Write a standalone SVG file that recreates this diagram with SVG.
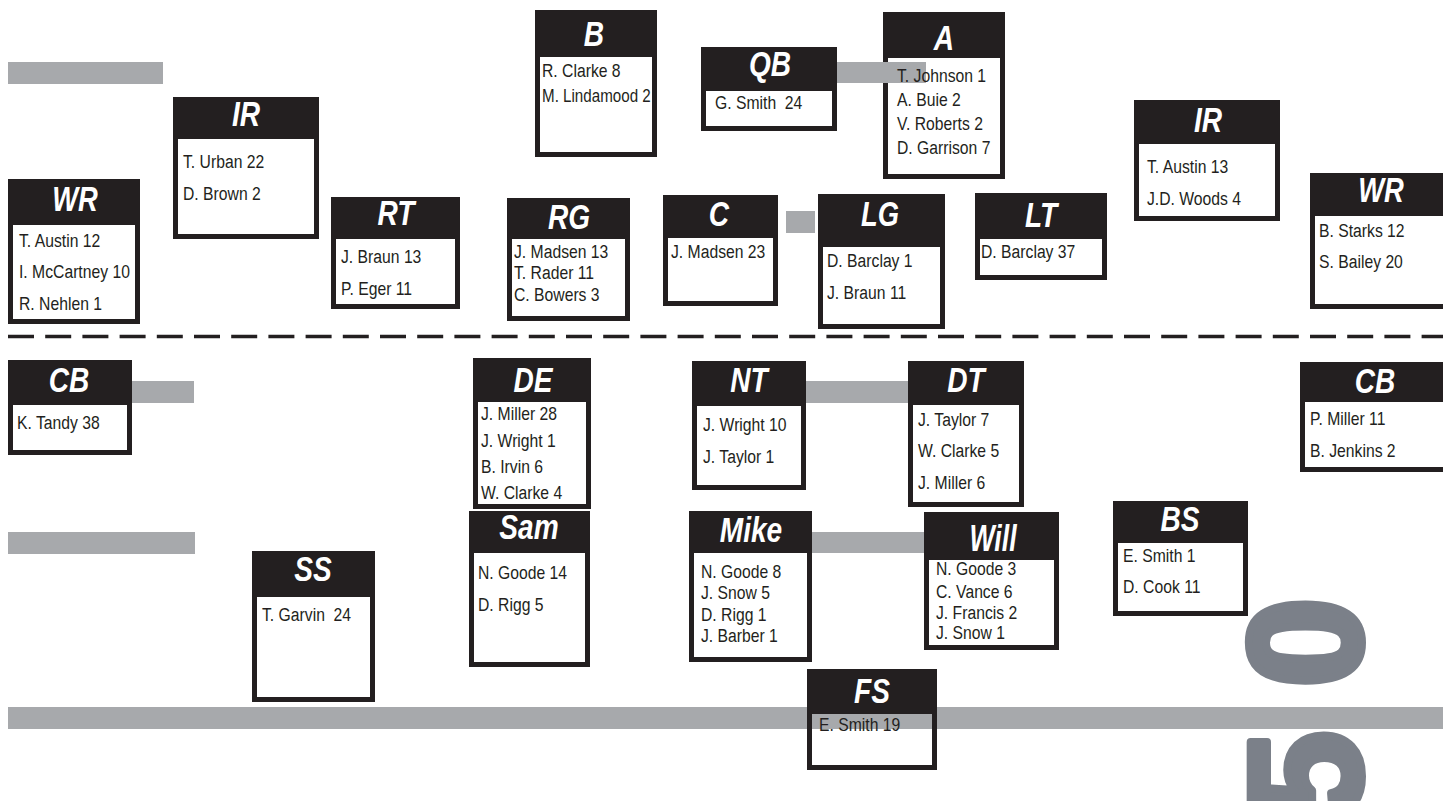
<svg xmlns="http://www.w3.org/2000/svg" width="1443" height="801" viewBox="0 0 1443 801">
<style>
.hd{fill:#231f20}
.fr{fill:#fff;stroke:#231f20;stroke-width:5}
.fo{fill:none;stroke:#231f20;stroke-width:5}
.bar{fill:#a7a9ac}
.t{font-family:"Liberation Sans",sans-serif;font-weight:bold;font-style:italic;font-size:36px;fill:#fff;text-anchor:middle}
.n{font-family:"Liberation Sans",sans-serif;font-size:18.5px;fill:#231f20}
.num{font-family:"Liberation Sans",sans-serif;font-weight:bold;font-size:160px;fill:#7b8089;stroke:#7b8089;stroke-width:8;stroke-linejoin:round;letter-spacing:44px}
</style>
<rect width="1443" height="801" fill="#fff"/>
<g id="field">
<text class="num" transform="translate(1360,820) rotate(-90)">50</text>
<rect class="bar" x="8" y="62" width="155" height="22"/>
<rect class="bar" x="8" y="532" width="187" height="22"/>
<rect class="bar" x="8" y="707" width="1435" height="22"/>
<line x1="8" y1="336.5" x2="1443" y2="336.5" stroke="#231f20" stroke-width="3.5" stroke-dasharray="26 11.2"/>
</g>
<g id="connectors">
<rect class="bar" x="837" y="62" width="89" height="21"/>
<rect class="bar" x="786" y="211" width="29" height="22"/>
<rect class="bar" x="132" y="381" width="62" height="22"/>
<rect class="bar" x="806" y="381" width="102" height="22"/>
<rect class="bar" x="812" y="532" width="112" height="21"/>
</g>
<g id="node-wr-left">
<rect class="fr" x="10.5" y="181.5" width="127" height="140"/>
<rect class="hd" x="8" y="179" width="132" height="46"/>
<text class="t" transform="translate(75,211) scale(.76,1)">WR</text>
<text class="n" transform="translate(19,247) scale(.85,1)">T. Austin 12</text>
<text class="n" transform="translate(19,278) scale(.85,1)">I. McCartney 10</text>
<text class="n" transform="translate(19,310) scale(.85,1)">R. Nehlen 1</text>
</g>
<g id="node-ir-left">
<rect class="fr" x="175.5" y="99.5" width="141" height="137"/>
<rect class="hd" x="173" y="97" width="146" height="42"/>
<text class="t" transform="translate(246,126) scale(.78,1)">IR</text>
<text class="n" transform="translate(183,168) scale(.85,1)">T. Urban 22</text>
<text class="n" transform="translate(183,200) scale(.85,1)">D. Brown 2</text>
</g>
<g id="node-rt">
<rect class="fr" x="333.5" y="199.5" width="124" height="107"/>
<rect class="hd" x="331" y="197" width="129" height="42"/>
<text class="t" transform="translate(396,225) scale(.78,1)">RT</text>
<text class="n" transform="translate(341,263) scale(.85,1)">J. Braun 13</text>
<text class="n" transform="translate(341,295) scale(.85,1)">P. Eger 11</text>
</g>
<g id="node-b">
<rect class="fr" x="537.5" y="12.5" width="117" height="142"/>
<rect class="hd" x="535" y="10" width="122" height="47"/>
<text class="t" transform="translate(594,46) scale(.78,1)">B</text>
<text class="n" transform="translate(542,77) scale(.85,1)">R. Clarke 8</text>
<text class="n" transform="translate(542,102) scale(.82,1)">M. Lindamood 2</text>
</g>
<g id="node-qb">
<rect class="fr" x="703.5" y="49.5" width="131" height="79"/>
<rect class="hd" x="701" y="47" width="136" height="44"/>
<text class="t" transform="translate(770,76) scale(.78,1)">QB</text>
<text class="n" transform="translate(715,109) scale(.85,1)" xml:space="preserve">G. Smith  24</text>
</g>
<g id="node-a">
<path class="fo" d="M885.5,83 V176.5 H1002.5 V14.5 H885.5 V62"/>
<rect class="hd" x="883" y="12" width="122" height="46"/>
<text class="t" transform="translate(944,50) scale(.78,1)">A</text>
<text class="n" transform="translate(897,82) scale(.85,1)">T. Johnson 1</text>
<text class="n" transform="translate(897,106) scale(.85,1)">A. Buie 2</text>
<text class="n" transform="translate(897,130) scale(.85,1)">V. Roberts 2</text>
<text class="n" transform="translate(897,154) scale(.85,1)">D. Garrison 7</text>
</g>
<g id="node-rg">
<rect class="fr" x="509.5" y="200.5" width="118" height="118"/>
<rect class="hd" x="507" y="198" width="123" height="41"/>
<text class="t" transform="translate(569,229) scale(.78,1)">RG</text>
<text class="n" transform="translate(514,258) scale(.85,1)">J. Madsen 13</text>
<text class="n" transform="translate(514,279) scale(.85,1)">T. Rader 11</text>
<text class="n" transform="translate(514,301) scale(.85,1)">C. Bowers 3</text>
</g>
<g id="node-c">
<rect class="fr" x="665.5" y="197.5" width="110" height="106"/>
<rect class="hd" x="663" y="195" width="115" height="43"/>
<text class="t" transform="translate(719,226) scale(.78,1)">C</text>
<text class="n" transform="translate(671,258) scale(.85,1)">J. Madsen 23</text>
</g>
<g id="node-lg">
<rect class="fr" x="820.5" y="196.5" width="122" height="130"/>
<rect class="hd" x="818" y="194" width="127" height="53"/>
<text class="t" transform="translate(880,226) scale(.76,1)">LG</text>
<text class="n" transform="translate(827,267) scale(.85,1)">D. Barclay 1</text>
<text class="n" transform="translate(827,299) scale(.85,1)">J. Braun 11</text>
</g>
<g id="node-lt">
<rect class="fr" x="977.5" y="195.5" width="127" height="82"/>
<rect class="hd" x="975" y="193" width="132" height="46"/>
<text class="t" transform="translate(1041,227) scale(.78,1)">LT</text>
<text class="n" transform="translate(981,258) scale(.85,1)">D. Barclay 37</text>
</g>
<g id="node-ir-right">
<rect class="fr" x="1136.5" y="102.5" width="141" height="116"/>
<rect class="hd" x="1134" y="100" width="146" height="44"/>
<text class="t" transform="translate(1208,132) scale(.78,1)">IR</text>
<text class="n" transform="translate(1147,173) scale(.85,1)">T. Austin 13</text>
<text class="n" transform="translate(1147,205) scale(.85,1)">J.D. Woods 4</text>
</g>
<g id="node-wr-right">
<rect class="fr" x="1312.5" y="175.5" width="137" height="131"/>
<rect class="hd" x="1310" y="173" width="142" height="43"/>
<text class="t" transform="translate(1381,202) scale(.76,1)">WR</text>
<text class="n" transform="translate(1319,237) scale(.85,1)">B. Starks 12</text>
<text class="n" transform="translate(1319,268) scale(.85,1)">S. Bailey 20</text>
</g>
<g id="node-cb-left">
<rect class="fr" x="10.5" y="362.5" width="119" height="90"/>
<rect class="hd" x="8" y="360" width="124" height="45"/>
<text class="t" transform="translate(69,392) scale(.78,1)">CB</text>
<text class="n" transform="translate(17,429) scale(.85,1)">K. Tandy 38</text>
</g>
<g id="node-de">
<rect class="fr" x="475.5" y="360.5" width="113" height="146"/>
<rect class="hd" x="473" y="358" width="118" height="44"/>
<text class="t" transform="translate(533,392) scale(.78,1)">DE</text>
<text class="n" transform="translate(481,420) scale(.85,1)">J. Miller 28</text>
<text class="n" transform="translate(481,447) scale(.85,1)">J. Wright 1</text>
<text class="n" transform="translate(481,473) scale(.85,1)">B. Irvin 6</text>
<text class="n" transform="translate(481,499) scale(.85,1)">W. Clarke 4</text>
</g>
<g id="node-nt">
<rect class="fr" x="694.5" y="363.5" width="109" height="124"/>
<rect class="hd" x="692" y="361" width="114" height="45"/>
<text class="t" transform="translate(749,392) scale(.78,1)">NT</text>
<text class="n" transform="translate(703,431) scale(.85,1)">J. Wright 10</text>
<text class="n" transform="translate(703,463) scale(.85,1)">J. Taylor 1</text>
</g>
<g id="node-dt">
<rect class="fr" x="910.5" y="363.5" width="111" height="141"/>
<rect class="hd" x="908" y="361" width="116" height="44"/>
<text class="t" transform="translate(966,392) scale(.78,1)">DT</text>
<text class="n" transform="translate(918,426) scale(.85,1)">J. Taylor 7</text>
<text class="n" transform="translate(918,457) scale(.85,1)">W. Clarke 5</text>
<text class="n" transform="translate(918,489) scale(.85,1)">J. Miller 6</text>
</g>
<g id="node-cb-right">
<rect class="fr" x="1302.5" y="364.5" width="145" height="105"/>
<rect class="hd" x="1300" y="362" width="150" height="40"/>
<text class="t" transform="translate(1375,393) scale(.78,1)">CB</text>
<text class="n" transform="translate(1310,425) scale(.85,1)">P. Miller 11</text>
<text class="n" transform="translate(1310,457) scale(.85,1)">B. Jenkins 2</text>
</g>
<g id="node-sam">
<rect class="fr" x="471.5" y="513.5" width="116" height="151"/>
<rect class="hd" x="469" y="511" width="121" height="42"/>
<text class="t" transform="translate(529,539) scale(.78,1)">Sam</text>
<text class="n" transform="translate(478,579) scale(.85,1)">N. Goode 14</text>
<text class="n" transform="translate(478,611) scale(.85,1)">D. Rigg 5</text>
</g>
<g id="node-mike">
<rect class="fr" x="691.5" y="513.5" width="118" height="146"/>
<rect class="hd" x="689" y="511" width="123" height="42"/>
<text class="t" transform="translate(751,542) scale(.78,1)">Mike</text>
<text class="n" transform="translate(701,578) scale(.85,1)">N. Goode 8</text>
<text class="n" transform="translate(701,599) scale(.85,1)">J. Snow 5</text>
<text class="n" transform="translate(701,621) scale(.85,1)">D. Rigg 1</text>
<text class="n" transform="translate(701,642) scale(.85,1)">J. Barber 1</text>
</g>
<g id="node-will">
<rect class="fr" x="926.5" y="514.5" width="130" height="133"/>
<rect class="hd" x="924" y="512" width="135" height="48"/>
<text class="t" transform="translate(993,551) scale(.74,1.05)">Will</text>
<text class="n" transform="translate(936,575) scale(.85,1)">N. Goode 3</text>
<text class="n" transform="translate(936,598) scale(.85,1)">C. Vance 6</text>
<text class="n" transform="translate(936,619) scale(.85,1)">J. Francis 2</text>
<text class="n" transform="translate(936,639) scale(.85,1)">J. Snow 1</text>
</g>
<g id="node-bs">
<rect class="fr" x="1115.5" y="503.5" width="130" height="110"/>
<rect class="hd" x="1113" y="501" width="135" height="42"/>
<text class="t" transform="translate(1180,531) scale(.78,1)">BS</text>
<text class="n" transform="translate(1123,562) scale(.85,1)">E. Smith 1</text>
<text class="n" transform="translate(1123,593) scale(.85,1)">D. Cook 11</text>
</g>
<g id="node-ss">
<rect class="fr" x="254.5" y="553.5" width="118" height="146"/>
<rect class="hd" x="252" y="551" width="123" height="46"/>
<text class="t" transform="translate(313,581) scale(.78,1)">SS</text>
<text class="n" transform="translate(262,621) scale(.85,1)" xml:space="preserve">T. Garvin  24</text>
</g>
<g id="node-fs">
<rect class="fo" x="809.5" y="671.5" width="125" height="96"/>
<rect class="hd" x="807" y="669" width="130" height="45"/>
<text class="t" transform="translate(872,703) scale(.78,1)">FS</text>
<text class="n" transform="translate(819,731) scale(.85,1)">E. Smith 19</text>
</g>
</svg>
